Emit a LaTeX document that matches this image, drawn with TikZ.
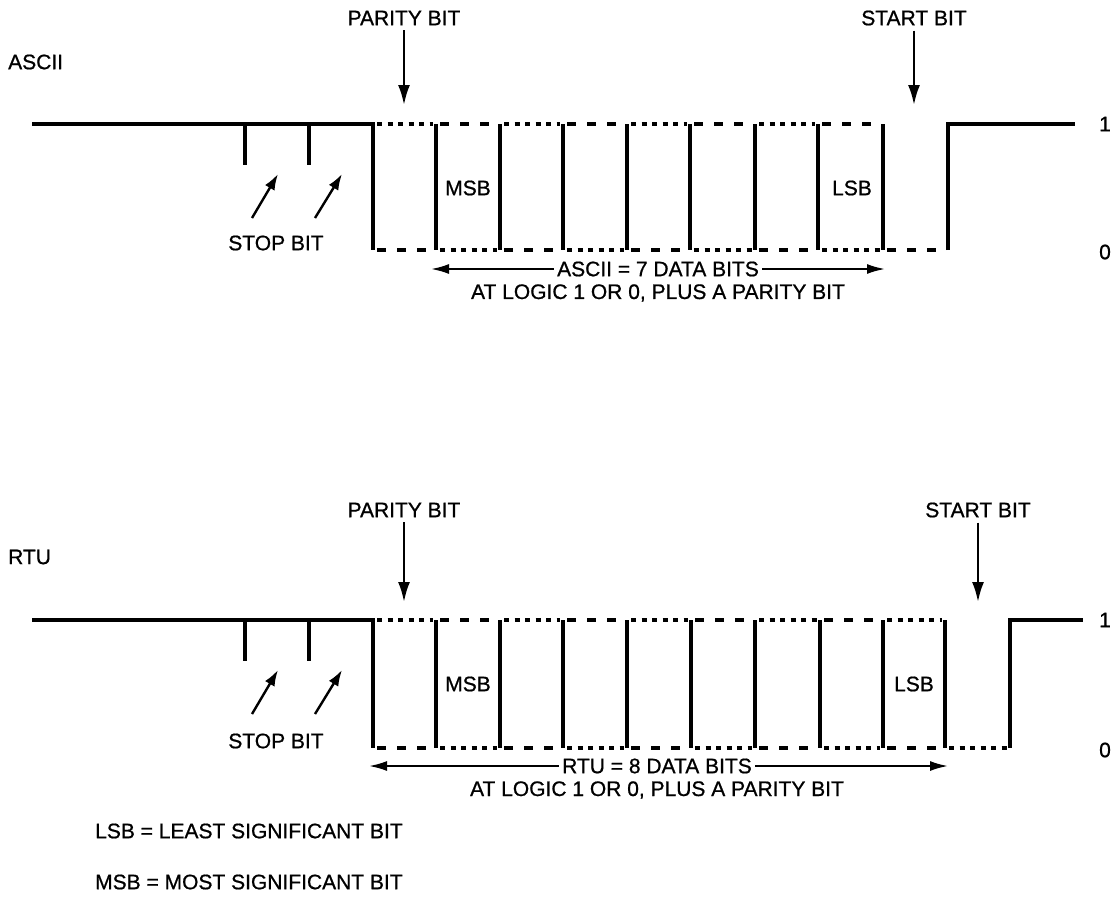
\documentclass[tikz,border=0pt]{standalone}
\usepackage{fontspec}
\setmainfont{Liberation Sans}
\newfontfamily\lblfont{Liberation Sans}[FakeBold=0.8]
\usetikzlibrary{arrows.meta}
\tikzset{
  sig/.style={line width=3.2pt},
  sdot/.style={line width=3.2pt, dash pattern=on 5pt off 5.5pt},
  sdash/.style={line width=3.2pt, dash pattern=on 9pt off 11pt},
  lbl/.style={inner sep=0pt, font=\lblfont\fontsize{21}{23}\selectfont},
  pointer/.style={line width=2.4pt, -{Latex[length=20pt,width=12pt]}},
  spointer/.style={line width=2.4pt, -{Latex[length=16pt,width=11pt]}},
  dimarrow/.style={line width=2pt, -{Latex[length=18pt,width=10pt]}},
}
\begin{document}
\begin{tikzpicture}[x=1pt,y=-1pt]
\useasboundingbox (0,0) rectangle (1115,916);

% ================= ASCII =================
\node[lbl, anchor=west] (asciiT) at (8,62) {ASCII};
\node[lbl] (parA) at (404,18) {PARITY BIT};
\node[lbl] (startA) at (914,18) {START BIT};
\coordinate (parAtip) at (404,105);
\coordinate (startAtip) at (914,105);
\draw[pointer] ([yshift=-5pt]parA.south) -- (parAtip);
\draw[pointer] ([yshift=-5pt]startA.south) -- (startAtip);

% waveform
\draw[sig] (32,124) -- (373,124) -- (373,250);
\draw[sig] (245,124) -- (245,165);
\draw[sig] (309,124) -- (309,165);
\foreach \x in {436,500,563,627,690,755,818,883}
  \draw[sig] (\x,124) -- (\x,250);
\draw[sig] (948,250) -- (948,124) -- (1075,124);
\foreach \a/\b [count=\k] in {373/436,436/500,500/563,563/627,627/690,690/755,755/818,818/883}{
  \ifodd\k
    \draw[sdot] (\a+4,124) -- (\b-3,124);
    \draw[sdash] (\a+4,250) -- (\b-3,250);
  \else
    \draw[sdash] (\a+4,124) -- (\b-3,124);
    \draw[sdot] (\a+4,250) -- (\b-3,250);
  \fi
}
\draw[sdash] (883+4,250) -- (948-3,250);

\node[lbl] (msbA) at (468,188) {MSB};
\node[lbl] (lsbA) at (852,188) {LSB};
\node[lbl] (oneA) at (1105,124) {1};
\node[lbl] (zeroA) at (1105,252) {0};

\node[lbl] (stopA) at (276,243) {STOP BIT};
\coordinate (sA1t) at (252,218); \coordinate (sA1h) at (278,174);
\coordinate (sA2t) at (315,218); \coordinate (sA2h) at (342,174);
\draw[spointer] (sA1t) -- (sA1h);
\draw[spointer] (sA2t) -- (sA2h);

\node[lbl] (dimA) at (658,269) {ASCII = 7 DATA BITS};
\coordinate (dimAl) at (431,269);
\coordinate (dimAr) at (885,269);
\draw[dimarrow] ([xshift=-3pt]dimA.west) -- (dimAl);
\draw[dimarrow] ([xshift=3pt]dimA.east) -- (dimAr);
\node[lbl] (dimA2) at (658,293) {AT LOGIC 1 OR 0, PLUS A PARITY BIT};

% ================= RTU =================
\node[lbl, anchor=west] (rtuT) at (8,557) {RTU};
\node[lbl] (parR) at (404,510) {PARITY BIT};
\node[lbl] (startR) at (978,510) {START BIT};
\coordinate (parRtip) at (404,602);
\coordinate (startRtip) at (978,602);
\draw[pointer] ([yshift=-5pt]parR.south) -- (parRtip);
\draw[pointer] ([yshift=-5pt]startR.south) -- (startRtip);

\draw[sig] (32,620) -- (373,620) -- (373,748);
\draw[sig] (245,620) -- (245,661);
\draw[sig] (309,620) -- (309,661);
\foreach \x in {436,500,563,627,691,755,820,883,945}
  \draw[sig] (\x,620) -- (\x,748);
\draw[sig] (1010,748) -- (1010,620) -- (1083,620);
\foreach \a/\b [count=\k] in {373/436,436/500,500/563,563/627,627/691,691/755,755/820,820/883,883/945}{
  \ifodd\k
    \draw[sdot] (\a+4,620) -- (\b-3,620);
    \draw[sdash] (\a+4,748) -- (\b-3,748);
  \else
    \draw[sdash] (\a+4,620) -- (\b-3,620);
    \draw[sdot] (\a+4,748) -- (\b-3,748);
  \fi
}
\draw[sdot] (945+4,748) -- (1010-3,748);

\node[lbl] (msbR) at (468,684) {MSB};
\node[lbl] (lsbR) at (914,684) {LSB};
\node[lbl] (oneR) at (1105,620) {1};
\node[lbl] (zeroR) at (1105,750) {0};

\node[lbl] (stopR) at (276,741) {STOP BIT};
\coordinate (sR1t) at (252,714); \coordinate (sR1h) at (278,670);
\coordinate (sR2t) at (315,714); \coordinate (sR2h) at (342,670);
\draw[spointer] (sR1t) -- (sR1h);
\draw[spointer] (sR2t) -- (sR2h);

\node[lbl] (dimR) at (657,766) {RTU = 8 DATA BITS};
\coordinate (dimRl) at (369,766);
\coordinate (dimRr) at (948,766);
\draw[dimarrow] ([xshift=-3pt]dimR.west) -- (dimRl);
\draw[dimarrow] ([xshift=3pt]dimR.east) -- (dimRr);
\node[lbl] (dimR2) at (657,790) {AT LOGIC 1 OR 0, PLUS A PARITY BIT};

% legend
\node[lbl, anchor=west] (legL) at (95,831) {LSB = LEAST SIGNIFICANT BIT};
\node[lbl, anchor=west] (legM) at (95,882) {MSB = MOST SIGNIFICANT BIT};
\end{tikzpicture}
\end{document}
